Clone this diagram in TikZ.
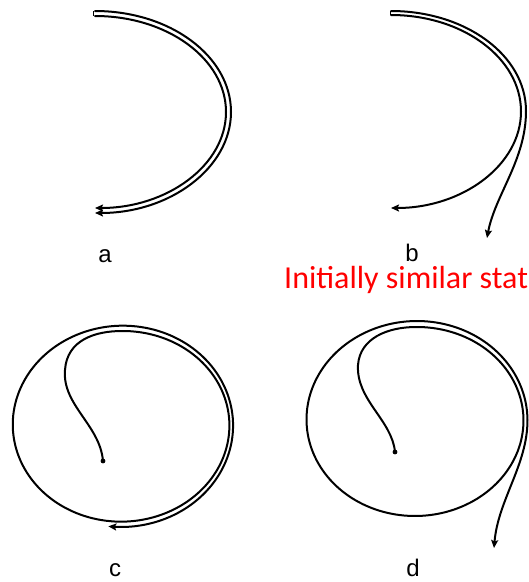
\documentclass[tikz,border=0pt]{standalone}
\usepackage{fontspec}
\setmainfont{Liberation Sans}
\newfontfamily\carlito{Carlito}
\usetikzlibrary{arrows.meta}
\begin{document}
\begin{tikzpicture}[x=1pt,y=-1pt,
  trail/.style={line width=2pt, line cap=round, line join=round},
  tip/.style={-{Stealth[length=8pt,width=7pt,inset=1.5pt]}},
  lbl/.style={font=\fontsize{24}{24}\selectfont, anchor=base, inner sep=0pt},
  note/.style={font=\carlito\fontsize{32}{32}\selectfont, text=red, anchor=base west, inner sep=0pt}]
\useasboundingbox (0,0) rectangle (529,582);
% panel a
\draw[trail,tip] (95,11) arc[start angle=-90,end angle=90,x radius=136,y radius=101];
\draw[trail,tip] (95,16) arc[start angle=-90,end angle=90,x radius=131,y radius=96];
\draw[line width=1pt] (93,11) -- (93,16);
% panel b
\draw[trail,tip] (391,15) arc[start angle=-90,end angle=90,x radius=130,y radius=96.5];
\draw[trail,tip] (391,11) .. controls (465,11) and (526,55) .. (526,111)
   .. controls (526,160) and (495,195) .. (487,238);
\draw[line width=1pt] (390,11) -- (390,15);
% panel c
\fill (103,461) circle (2.4);
\draw[trail,tip] (103,461) .. controls (100,425) and (62,405) .. (65,370)
   .. controls (67,340) and (95,331) .. (122,331)
   -- plot[smooth, domain=0:547, samples=120, variable=\t]
      ({122 + (106.5 + \t*5.5/540)*sin(\t)}, {425 - (94 + \t*8/540)*cos(\t)});
% panel d
\fill (395,452) circle (2.4);
\draw[trail,tip] (395,452) .. controls (392,420) and (356,400) .. (358,365)
   .. controls (360,338) and (388,327) .. (416,327)
   -- plot[smooth, domain=0:450, samples=100, variable=\t]
      ({416 + (106.5 + \t*5/450)*sin(\t)}, {420 - (93 + \t*6/360)*cos(\t)})
   .. controls (527.5,465) and (498,500) .. (494,548);
% labels
\node[lbl] (la) at (105,262) {a};
\node[lbl] (lb) at (412,261) {b};
\node[lbl] (lc) at (115,576) {c};
\node[lbl] (ld) at (413,576) {d};
\node[note] (nt) at (284,288) {Initially similar stat};
\end{tikzpicture}
\end{document}
